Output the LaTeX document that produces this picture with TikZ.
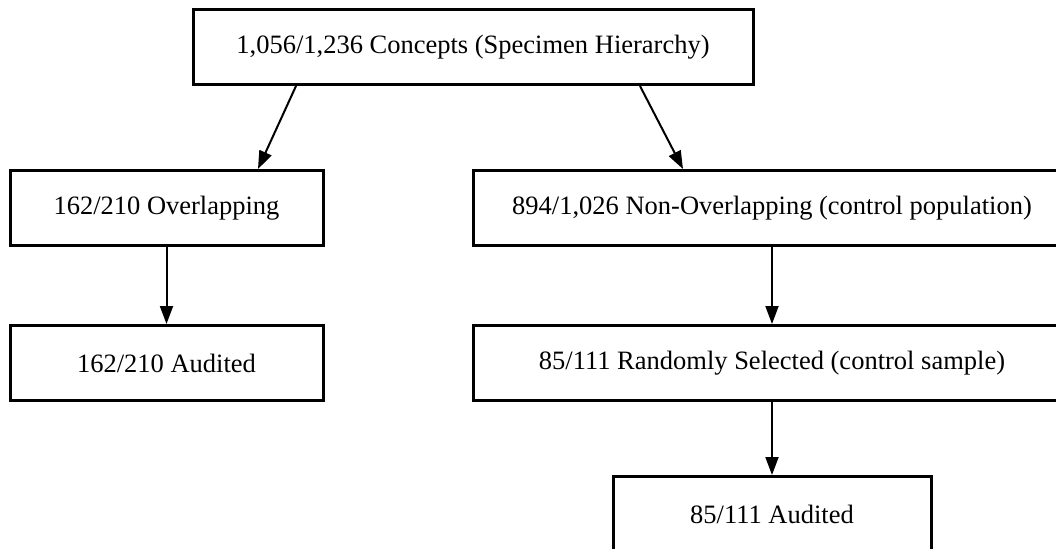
\documentclass[tikz,border=0pt]{standalone}
\usepackage{fontspec}
\setmainfont{Liberation Serif}
\usetikzlibrary{arrows.meta, positioning, calc}

\begin{document}
\begin{tikzpicture}[x=0.5pt,y=0.5pt,
    box/.style={draw, line width=1.5pt, minimum height=37.5pt, inner sep=0pt,
      font=\fontsize{13.25}{16}\selectfont},
    arr/.style={-{Triangle[length=9pt,width=6.5pt]}, line width=1pt}]
  \clip (0,0) rectangle (1056,548);
  % top of the hierarchy
  \node[box, minimum width=280pt] (spec) at (473,501) {1,056/1,236 Concepts (Specimen Hierarchy)};
  % overlapping branch
  \node[box, minimum width=156.5pt] (over) at (166.5,340) {162/210 Overlapping};
  \node[box, minimum width=156.5pt] (overaud) at (166.5,185) {162/210 Audited};
  % non-overlapping branch (control)
  \node[box, minimum width=299pt] (nonover) at (772,340) {894/1,026 Non-Overlapping (control population)};
  \node[box, minimum width=299pt] (rand) at (772,185) {85/111 Randomly Selected (control sample)};
  \node[box, minimum width=159pt] (ctrlaud) at (772,34) {85/111 Audited};
  % connectors
  \draw[arr] ($(spec.south)+(-177,0)$) -- ($(over.north)+(91.5,0)$);
  \draw[arr] ($(spec.south)+(167,0)$) -- ($(nonover.north)+(-89,0)$);
  \draw[arr] (over) -- (overaud);
  \draw[arr] (nonover) -- (rand);
  \draw[arr] (rand) -- (ctrlaud);
\end{tikzpicture}
\end{document}
